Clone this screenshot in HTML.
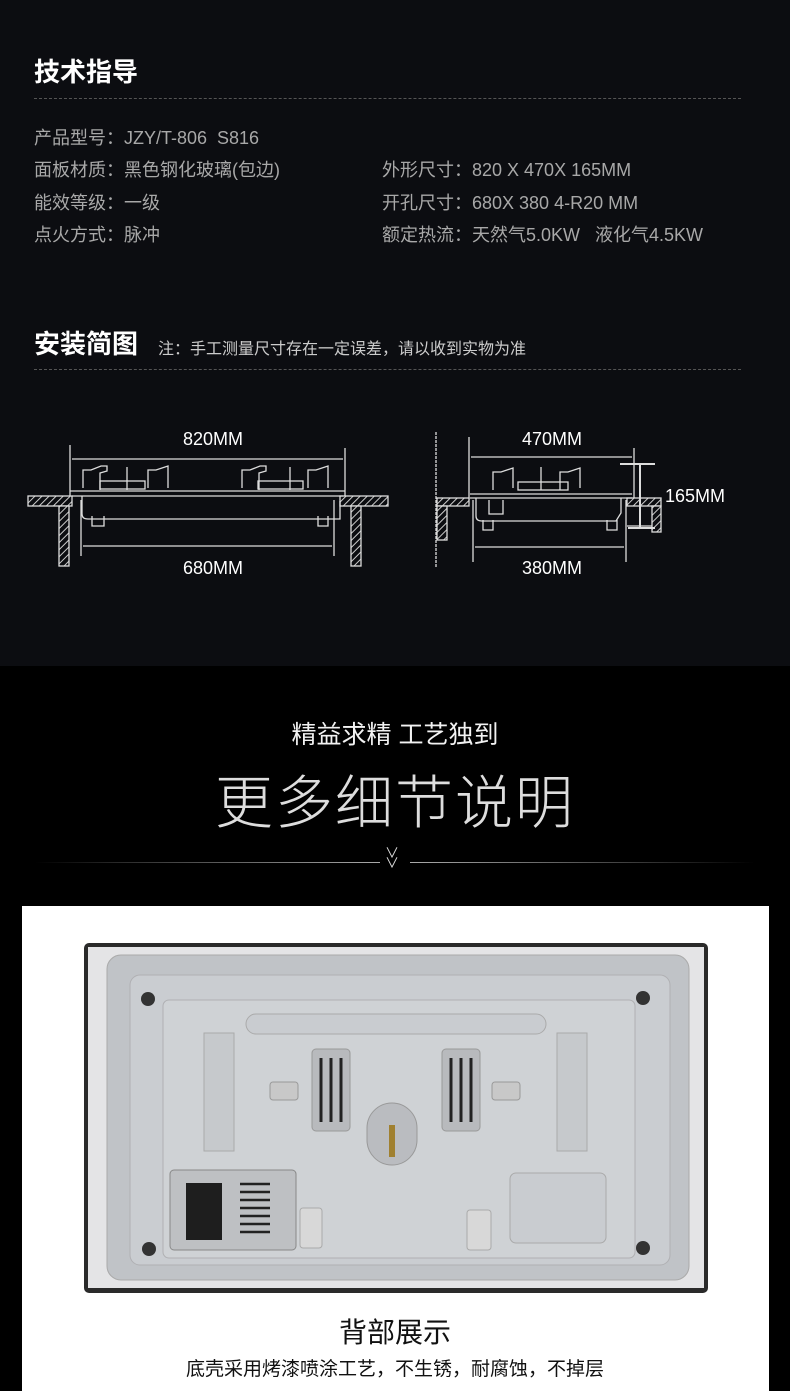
<!DOCTYPE html>
<html><head><meta charset="utf-8">
<style>
*{margin:0;padding:0;box-sizing:border-box}
body{width:790px;height:1391px;overflow:hidden;background:#000;font-family:"Liberation Sans","Noto Sans CJK SC",sans-serif;position:relative}
.top{position:absolute;left:0;top:0;width:790px;height:666px;background:#0c0d11}
.t{position:absolute;color:#bbb;white-space:nowrap}
.h{color:#fff;font-weight:bold;font-size:26px}
.dash{position:absolute;left:34px;width:707px;border-top:1px dashed #555}
.spec{font-size:18px;color:#a8a8a8}
</style></head><body>
<div class="top"></div>
<div class="t h" style="left:34px;top:52px">技术指导</div>
<div class="dash" style="top:98px"></div>
<div class="t spec" style="left:34px;top:124px">产品型号：JZY/T-806&nbsp; S816</div>
<div class="t spec" style="left:34px;top:156px">面板材质：黑色钢化玻璃(包边)</div>
<div class="t spec" style="left:34px;top:189px">能效等级：一级</div>
<div class="t spec" style="left:34px;top:221px">点火方式：脉冲</div>
<div class="t spec" style="left:382px;top:156px">外形尺寸：820 X 470X 165MM</div>
<div class="t spec" style="left:382px;top:189px">开孔尺寸：680X 380 4-R20 MM</div>
<div class="t spec" style="left:382px;top:221px">额定热流：天然气5.0KW&nbsp;&nbsp; 液化气4.5KW</div>
<div class="t h" style="left:34px;top:324px">安装简图</div>
<div class="t" style="left:158px;top:335px;font-size:16px;color:#ccc">注：手工测量尺寸存在一定误差，请以收到实物为准</div>
<div class="dash" style="top:369px"></div>

<svg style="position:absolute;left:0;top:0" width="790" height="666">
<defs><pattern id="hat" width="5" height="5" patternUnits="userSpaceOnUse" patternTransform="rotate(45)"><rect width="5" height="5" fill="#0c0d11"/><line x1="0" y1="0" x2="0" y2="5" stroke="#ccc" stroke-width="2"/></pattern></defs>
<g stroke="#ddd" fill="none" stroke-width="1.3">
<line x1="70" y1="445" x2="70" y2="500"/><line x1="345" y1="448" x2="345" y2="500"/>
<line x1="72" y1="459" x2="343" y2="459"/>
<rect x="28" y="496" width="44" height="10" fill="url(#hat)"/>
<rect x="340" y="496" width="48" height="10" fill="url(#hat)"/>
<rect x="59" y="506" width="10" height="60" fill="url(#hat)"/>
<rect x="351" y="506" width="10" height="60" fill="url(#hat)"/>
<line x1="70" y1="491" x2="345" y2="491"/><line x1="72" y1="496" x2="343" y2="496"/>
<path d="M82 496 v18 q0 5 6 5 h252 v-18"/>
<path d="M92 516 v10 h12 v-10 M318 516 v10 h10 v-10"/>
<path d="M83 488 v-18 h8 l10 -4 h6 v5 l-7 2 v17 M148 488 v-18 h8 l12 -4 v22 M242 488 v-18 h8 l10 -4 h6 v5 l-7 2 v17 M308 488 v-18 h8 l12 -4 v22"/>
<rect x="100" y="481" width="45" height="8"/><rect x="258" y="481" width="45" height="8"/>
<line x1="127" y1="467" x2="127" y2="490"/><line x1="290" y1="467" x2="290" y2="490"/>
<line x1="81" y1="500" x2="81" y2="556"/><line x1="334" y1="500" x2="334" y2="556"/>
<line x1="83" y1="546" x2="332" y2="546"/>
<line x1="436" y1="432" x2="436" y2="568" stroke-dasharray="3 1"/>
<line x1="469" y1="437" x2="469" y2="500"/><line x1="634" y1="448" x2="634" y2="500"/>
<line x1="471" y1="457" x2="632" y2="457"/>
<rect x="437" y="498" width="32" height="8" fill="url(#hat)"/>
<rect x="437" y="506" width="10" height="34" fill="url(#hat)"/>
<rect x="627" y="498" width="34" height="8" fill="url(#hat)"/>
<rect x="652" y="506" width="9" height="26" fill="url(#hat)"/>
<line x1="627" y1="526" x2="652" y2="526"/>
<line x1="470" y1="494" x2="632" y2="494"/><line x1="470" y1="498" x2="632" y2="498"/>
<path d="M476 498 v18 q0 5 6 5 h134 l5 -8 v-15"/>
<path d="M483 520 v10 h10 v-10 M607 520 v10 h10 v-10 M489 500 v14 h14 v-14"/>
<path d="M493 490 v-18 h8 l12 -4 v20 M560 490 v-18 h8 l12 -4 v20"/>
<rect x="518" y="482" width="50" height="8"/><line x1="541" y1="467" x2="541" y2="490"/>
<line x1="620" y1="464" x2="655" y2="464" stroke-width="2"/><line x1="640" y1="464" x2="640" y2="528" stroke-width="2"/><line x1="628" y1="528" x2="655" y2="528" stroke-width="2"/>
<line x1="473" y1="500" x2="473" y2="562"/><line x1="626" y1="500" x2="626" y2="562"/>
<line x1="475" y1="547" x2="624" y2="547"/>
</g>
<g fill="#fff" font-size="18" font-family="Liberation Sans,sans-serif" text-anchor="middle">
<text x="213" y="445">820MM</text><text x="213" y="574">680MM</text>
<text x="552" y="445">470MM</text><text x="552" y="574">380MM</text>
<text x="695" y="502">165MM</text>
</g>
</svg>

<div class="t" style="left:0;width:790px;text-align:center;top:715px;font-size:25px;color:#f2f2f2">精益求精 工艺独到</div>
<div class="t" style="left:0;width:790px;text-align:center;top:756px;font-size:58px;color:#ddd;font-weight:200;letter-spacing:2px;font-family:'Noto Sans CJK SC',sans-serif">更多细节说明</div>
<div style="position:absolute;left:35px;top:862px;width:345px;height:1px;background:linear-gradient(90deg,#000,#aaa)"></div>
<div style="position:absolute;left:410px;top:862px;width:345px;height:1px;background:linear-gradient(90deg,#aaa,#000)"></div>
<div class="t" style="left:385px;top:848px;font-size:14px;color:#ddd;line-height:10px">∨<br>∨</div>

<div style="position:absolute;left:22px;top:906px;width:747px;height:485px;background:#fff"></div>
<svg style="position:absolute;left:0;top:0" width="790" height="1391">
<rect x="84" y="943" width="624" height="350" rx="5" fill="#2a2a2a"/>
<rect x="88" y="947" width="616" height="341" fill="#e4e4e6"/>
<rect x="107" y="955" width="582" height="325" rx="14" fill="#c0c3c7" stroke="#aaa"/>
<rect x="130" y="975" width="540" height="290" rx="10" fill="#cacdd1" stroke="#b0b0b3"/>
<rect x="163" y="1000" width="472" height="258" rx="6" fill="#cfd2d5" stroke="#b0b0b3"/>
<rect x="246" y="1014" width="300" height="20" rx="10" fill="#c9ccd0" stroke="#aaa"/>
<rect x="204" y="1033" width="30" height="118" fill="#c6c9cc" stroke="#aaa"/>
<rect x="557" y="1033" width="30" height="118" fill="#c6c9cc" stroke="#aaa"/>
<rect x="312" y="1049" width="38" height="82" rx="4" fill="#b8babd" stroke="#999"/>
<rect x="442" y="1049" width="38" height="82" rx="4" fill="#b8babd" stroke="#999"/>
<g stroke="#222" stroke-width="3"><line x1="321" y1="1058" x2="321" y2="1122"/><line x1="331" y1="1058" x2="331" y2="1122"/><line x1="341" y1="1058" x2="341" y2="1122"/><line x1="451" y1="1058" x2="451" y2="1122"/><line x1="461" y1="1058" x2="461" y2="1122"/><line x1="471" y1="1058" x2="471" y2="1122"/></g>
<rect x="367" y="1103" width="50" height="62" rx="25" fill="#babcc0" stroke="#999"/>
<rect x="389" y="1125" width="6" height="32" fill="#a08030"/>
<rect x="270" y="1082" width="28" height="18" rx="3" fill="#c8c8c8" stroke="#999"/>
<rect x="492" y="1082" width="28" height="18" rx="3" fill="#c8c8c8" stroke="#999"/>
<rect x="170" y="1170" width="126" height="80" rx="4" fill="#bec0c3" stroke="#888"/>
<rect x="186" y="1183" width="36" height="57" fill="#1e1e1e"/>
<g stroke="#222" stroke-width="2.5"><line x1="240" y1="1184" x2="270" y2="1184"/><line x1="240" y1="1192" x2="270" y2="1192"/><line x1="240" y1="1200" x2="270" y2="1200"/><line x1="240" y1="1208" x2="270" y2="1208"/><line x1="240" y1="1216" x2="270" y2="1216"/><line x1="240" y1="1224" x2="270" y2="1224"/><line x1="240" y1="1232" x2="270" y2="1232"/></g>
<rect x="510" y="1173" width="96" height="70" rx="6" fill="#c9ccd0" stroke="#aaa"/>
<rect x="300" y="1208" width="22" height="40" rx="3" fill="#d8d8d8" stroke="#aaa"/>
<rect x="467" y="1210" width="24" height="40" rx="3" fill="#d8d8d8" stroke="#aaa"/>
<g fill="#333"><circle cx="148" cy="999" r="7"/><circle cx="643" cy="998" r="7"/><circle cx="149" cy="1249" r="7"/><circle cx="643" cy="1248" r="7"/></g>
</svg>
<div class="t" style="left:0;width:790px;text-align:center;top:1311px;font-size:28px;color:#111">背部展示</div>
<div class="t" style="left:0;width:790px;text-align:center;top:1354px;font-size:19px;color:#111">底壳采用烤漆喷涂工艺，不生锈，耐腐蚀，不掉层</div>
</body></html>
